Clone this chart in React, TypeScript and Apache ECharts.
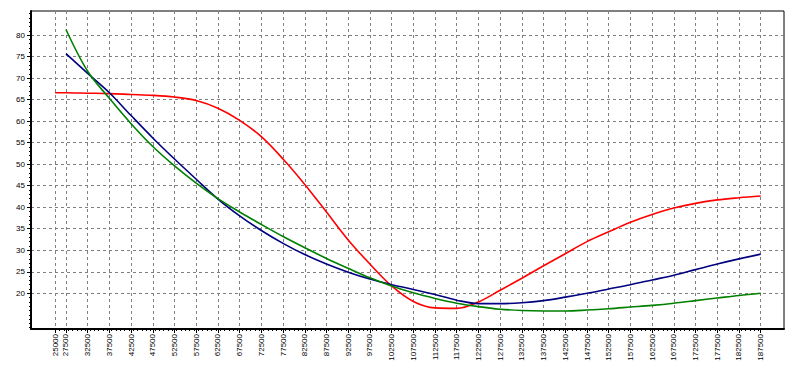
import React, { useEffect, useRef } from "react";
import * as echarts from "echarts";

const xValues = [
  25000, 27500, 32500, 37500, 42500, 47500, 52500, 57500, 62500, 67500, 72500,
  77500, 82500, 87500, 92500, 97500, 102500, 107500, 112500, 117500, 122500,
  127500, 132500, 137500, 142500, 147500, 152500, 157500, 162500, 167500,
  172500, 177500, 182500, 187500,
];

const redValues = [
  66.6, 66.6, 66.5, 66.4, 66.2, 66.0, 65.6, 64.8, 63.0, 60.2, 56.4, 51.2, 45.3,
  38.9, 32.4, 26.8, 21.7, 18.1, 16.6, 16.5, 18.0, 20.7, 23.5, 26.4, 29.2, 32.0,
  34.3, 36.5, 38.3, 39.8, 40.9, 41.7, 42.2, 42.6,
];

// blue and green start at 27500
const blueValues = [
  75.7, 71.1, 66.6, 61.3, 56.1, 51.2, 46.5, 41.9, 38.0, 34.6, 31.6, 29.0, 26.8,
  24.9, 23.3, 22.0, 20.9, 19.7, 18.4, 17.6, 17.6, 17.8, 18.3, 19.1, 20.0, 21.0,
  22.0, 23.1, 24.2, 25.5, 26.8, 28.0, 29.1,
];

const greenValues = [
  81.3, 71.6, 65.3, 59.4, 54.1, 49.6, 45.6, 42.0, 38.9, 36.0, 33.2, 30.6, 28.1,
  25.8, 23.6, 21.7, 20.1, 18.8, 17.7, 16.9, 16.3, 16.0, 15.9, 15.9, 16.1, 16.4,
  16.8, 17.2, 17.7, 18.3, 18.9, 19.5, 20.0,
];

const yTickValues = [20, 25, 30, 35, 40, 45, 50, 55, 60, 65, 70, 75, 80];

const X_MIN = 19450;
const X_MAX = 192870;
const Y_MIN = 11.7;
const Y_MAX = 85.6;

const xMinor: number[] = [];
for (let v = 25000; v <= 187500; v += 1000) xMinor.push(v);
const yMinor: number[] = [];
for (let v = 12; v <= 85; v += 1) yMinor.push(v);

export default function App() {
  const ref = useRef<HTMLDivElement>(null);
  useEffect(() => {
    if (!ref.current) return;
    const chart = echarts.init(ref.current, null, { renderer: "svg" });
    const font = "Liberation Sans";
    const dashed = { color: "#808080", width: 1, type: [3, 3] as number[] };
    const trailing = xValues.slice(1);
    chart.setOption({
      animation: false,
      backgroundColor: "#ffffff",
      grid: {
        left: 31,
        right: 12,
        top: 11,
        bottom: 39,
        show: true,
        borderColor: "#000",
        borderWidth: 1,
        backgroundColor: "transparent",
      },
      xAxis: [
        {
          type: "value",
          min: X_MIN,
          max: X_MAX,
          position: "bottom",
          axisLine: { show: true, lineStyle: { color: "#000", width: 2 } },
          axisTick: {
            show: true,
            length: 4,
            customValues: xValues,
            lineStyle: { color: "#000" },
          },
          axisLabel: {
            customValues: xValues,
            rotate: 90,
            margin: 5,
            color: "#000",
            fontFamily: font,
            fontSize: 8,
            formatter: (v: number) => String(v),
          },
          splitLine: { show: true, lineStyle: dashed },
        },
        {
          type: "value",
          min: X_MIN,
          max: X_MAX,
          position: "bottom",
          axisLine: { show: false },
          axisTick: {
            show: true,
            length: 2,
            customValues: xMinor,
            lineStyle: { color: "#000" },
          },
          axisLabel: { show: false },
          splitLine: { show: false },
        },
      ],
      yAxis: [
        {
          type: "value",
          min: Y_MIN,
          max: Y_MAX,
          position: "left",
          axisLine: { show: true, lineStyle: { color: "#000", width: 2 } },
          axisTick: {
            show: true,
            length: 4,
            customValues: yTickValues,
            lineStyle: { color: "#000" },
          },
          axisLabel: {
            customValues: yTickValues,
            margin: 6,
            color: "#000",
            fontFamily: font,
            fontSize: 8,
            formatter: (v: number) => String(v),
          },
          splitLine: { show: true, lineStyle: dashed },
        },
        {
          type: "value",
          min: Y_MIN,
          max: Y_MAX,
          position: "left",
          axisLine: { show: false },
          axisTick: {
            show: true,
            length: 2,
            customValues: yMinor,
            lineStyle: { color: "#000" },
          },
          axisLabel: { show: false },
          splitLine: { show: false },
        },
      ],
      series: [
        {
          type: "line",
          name: "red",
          data: xValues.map((x, i) => [x, redValues[i]]),
          smooth: 0.35,
          showSymbol: false,
          lineStyle: { color: "#ff0000", width: 1.6 },
          itemStyle: { color: "#ff0000" },
        },
        {
          type: "line",
          name: "blue",
          data: trailing.map((x, i) => [x, blueValues[i]]),
          smooth: 0.35,
          showSymbol: false,
          lineStyle: { color: "#000080", width: 1.6 },
          itemStyle: { color: "#000080" },
        },
        {
          type: "line",
          name: "green",
          data: trailing.map((x, i) => [x, greenValues[i]]),
          smooth: 0.35,
          showSymbol: false,
          lineStyle: { color: "#008000", width: 1.6 },
          itemStyle: { color: "#008000" },
        },
      ],
    });
    return () => chart.dispose();
  }, []);
  return (
    <div
      ref={ref}
      style={{ position: "fixed", left: 0, top: 0, width: 796, height: 368, background: "#fff" }}
    />
  );
}
